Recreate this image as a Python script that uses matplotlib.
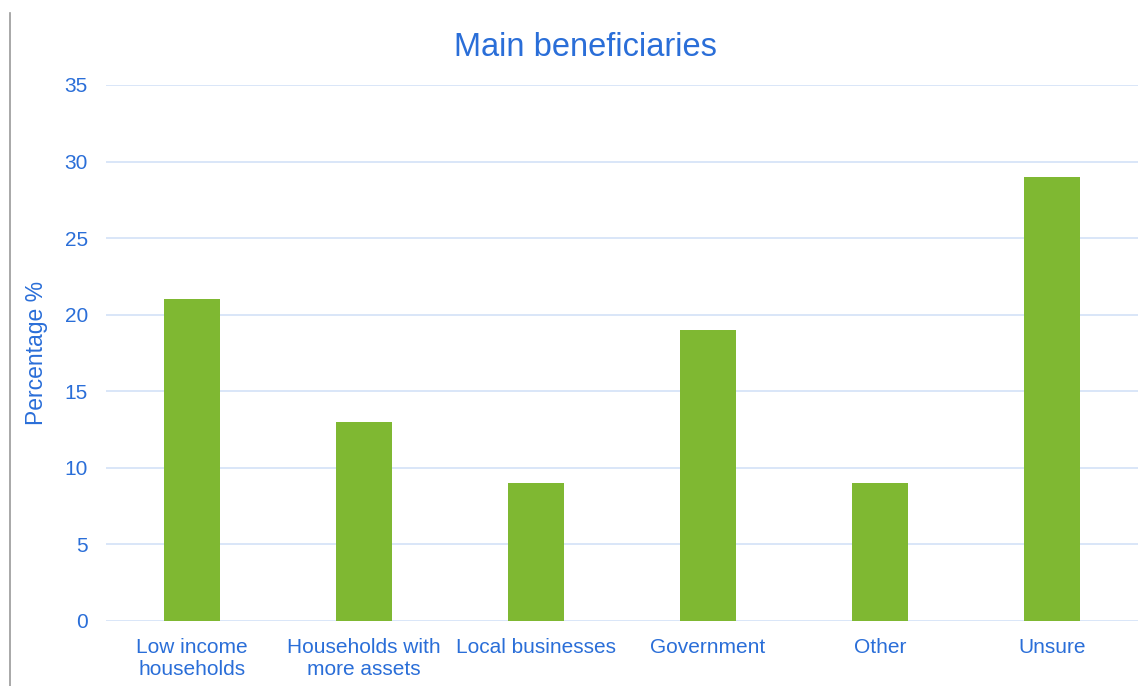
import matplotlib
matplotlib.use("Agg")
import matplotlib.pyplot as plt
from matplotlib.lines import Line2D

categories = ["Low income\nhouseholds", "Households with\nmore assets", "Local businesses",
              "Government", "Other", "Unsure"]
values = [21, 13, 9, 19, 9, 29]
yticks = [0, 5, 10, 15, 20, 25, 30, 35]

blue = "#2a6ed8"
green = "#7fb832"
grid = "#d3e2f7"

plt.rcParams['font.family'] = ['Liberation Sans', 'DejaVu Sans']
fig = plt.figure(figsize=(11.44, 6.86), dpi=100)
ax = fig.add_axes([106/1144, 1-621/686, (1138-106)/1144, (621-85)/686])
x = list(range(len(categories)))
ax.bar(x, values, width=0.32, color=green, zorder=3)
ax.set_xlim(-0.5, len(categories)-0.5)
ax.set_ylim(0, 35)
ax.set_yticks(yticks)
ax.set_yticklabels([str(t) for t in yticks])
ax.set_xticks(x)
ax.set_xticklabels(categories, linespacing=1.2)
ax.tick_params(axis='both', length=0, colors=blue, labelsize=15)
ax.tick_params(axis='y', pad=13)
ax.tick_params(axis='x', pad=12)
ax.yaxis.grid(True, color=grid, linewidth=1.2, zorder=0)
for s in ax.spines.values():
    s.set_visible(False)
ax.set_ylabel("Percentage %", color=blue, fontsize=16.5, labelpad=12)
fig.text(585/1144, 1-47/686, "Main beneficiaries", color=blue, fontsize=23.5,
         ha="center", va="center")
fig.add_artist(Line2D([10/1144, 10/1144], [0, 1-13/686], color="#999999", linewidth=1.2))
fig.savefig("out.png", dpi=100)
